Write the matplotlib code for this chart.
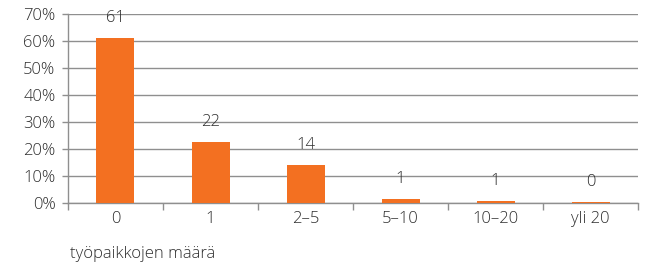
import matplotlib
matplotlib.use("Agg")
import matplotlib.pyplot as plt
import numpy as np

categories = ["0", "1", "2–5", "5–10", "10–20", "yli 20"]
values     = [61.0, 22.5, 14.0, 1.3, 0.7, 0.5]      # percent
labels     = ["61", "22", "14", "1", "1", "0"]

ORANGE = "#f37021"
GRID   = "#8f8f8f"
TXT    = "#2e2e2e"
FS     = 12

plt.rcParams["font.family"] = ["Open Sans", "DejaVu Sans"]
plt.rcParams["font.weight"] = "light"

fig = plt.figure(figsize=(6.5, 2.67), dpi=100)
ax = fig.add_axes([0.1046, 0.2397, 0.877, 0.708])

x = np.arange(len(categories))
ax.bar(x, values, width=0.4, color=ORANGE, zorder=3)
for xi, v, lab in zip(x, values, labels):
    ax.annotate(lab, (xi, v), xytext=(0, 14.5), textcoords="offset points",
                ha="center", va="center", fontsize=FS, color=TXT, zorder=4)

ax.set_xlim(-0.5, len(categories) - 0.5)
ax.set_ylim(0, 70)
ax.set_yticks(np.arange(0, 71, 10))
ax.set_yticklabels([f"{t}%" for t in range(0, 71, 10)])
ax.yaxis.grid(True, color=GRID, lw=1.0, zorder=0)

# category labels centred, tick marks on the boundaries
ax.set_xticks(x)
ax.set_xticklabels(categories)
ax.tick_params(axis="x", length=0, pad=6)
ax.set_xticks(np.arange(-0.5, len(categories)), minor=True)
ax.tick_params(axis="x", which="minor", length=5, color=GRID, width=1)
ax.tick_params(axis="y", length=4, color=GRID, width=1, pad=5)
ax.tick_params(labelsize=FS, labelcolor=TXT)

for s in ["top", "right"]:
    ax.spines[s].set_visible(False)
for s in ["left", "bottom"]:
    ax.spines[s].set_color(GRID)
    ax.spines[s].set_linewidth(1.0)

fig.text(70 / 650, 1 - 254 / 267, "työpaikkojen määrä", ha="left", va="center",
         fontsize=FS, color=TXT)

fig.savefig("out.png", dpi=100)
